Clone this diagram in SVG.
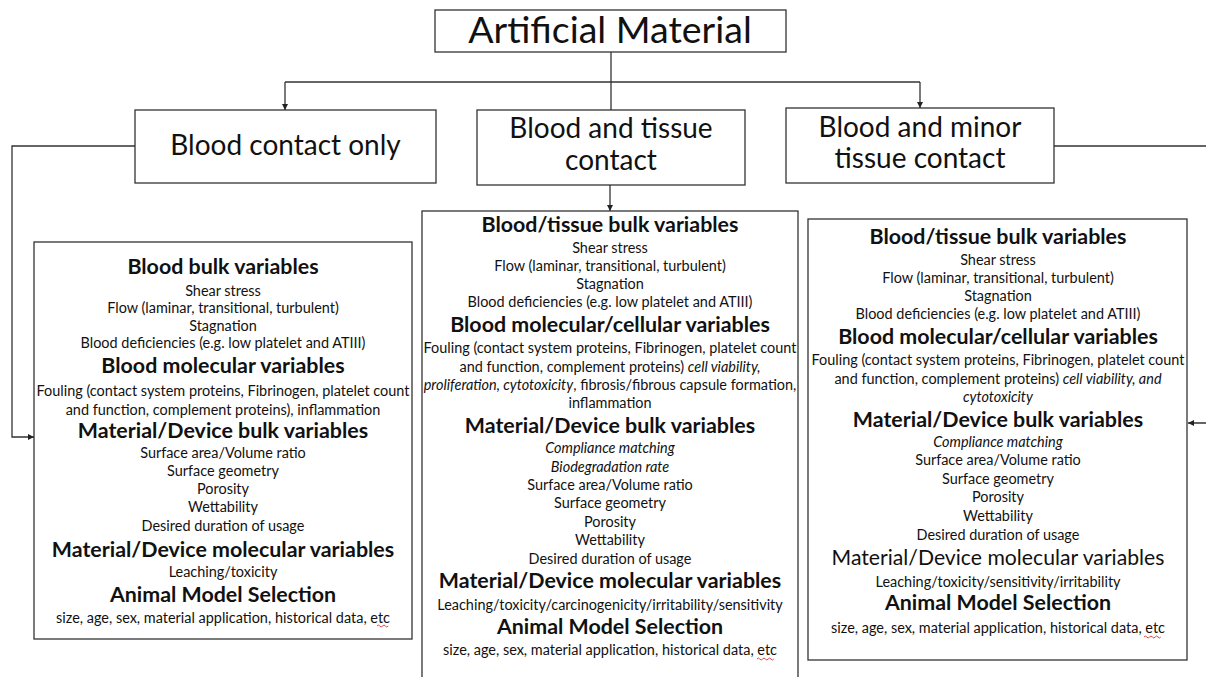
<svg xmlns="http://www.w3.org/2000/svg" width="1206" height="677" viewBox="0 0 1206 677">
  <style>
    .box { fill: #ffffff; stroke: #333333; stroke-width: 1.3; }
    .wire { fill: none; stroke: #333333; stroke-width: 1.3; }
    text { font-family: Lato, "Liberation Sans", sans-serif; fill: #111111; text-anchor: middle; }
    .title { font-size: 37.5px; }
    .cat { font-size: 28px; }
    .hd { font-size: 21.4px; font-weight: bold; }
    .hdr { font-size: 21.2px; }
    .it { font-size: 14.45px; }
    .em { font-style: italic; }
    .squig { fill: none; stroke: #e03030; stroke-width: 0.9; }
  </style>
  <defs>
    <marker id="arrow" viewBox="0 0 8 8" refX="8" refY="4" markerWidth="6" markerHeight="6" orient="auto" markerUnits="userSpaceOnUse">
      <path d="M0,0 L8,4 L0,8 Z" fill="#222222"/>
    </marker>
  </defs>

  <!-- connectors -->
  <g id="connectors">
    <path class="wire" d="M611,52 V110"/>
    <path class="wire" d="M285,82 H920"/>
    <path class="wire" d="M285,82 V110" marker-end="url(#arrow)"/>
    <path class="wire" d="M920,82 V108" marker-end="url(#arrow)"/>
    <path class="wire" d="M610,185 V211" marker-end="url(#arrow)"/>
    <path class="wire" d="M135,146 H12 V437 H34" marker-end="url(#arrow)"/>
    <path class="wire" d="M1054,146 H1216 V423 H1188" marker-end="url(#arrow)"/>
  </g>

  <!-- top node -->
  <g id="artificial-material">
    <rect class="box" x="435" y="10" width="351" height="42"/>
    <text class="title" x="610" y="43">Artificial Material</text>
  </g>

  <!-- category nodes -->
  <g id="blood-contact-only">
    <rect class="box" x="135" y="110" width="301" height="73"/>
    <text class="cat" x="285.5" y="155">Blood contact only</text>
  </g>
  <g id="blood-tissue-contact">
    <rect class="box" x="477" y="110" width="268" height="75"/>
    <text class="cat"><tspan x="611" y="138">Blood and tissue</tspan><tspan x="611" y="170">contact</tspan></text>
  </g>
  <g id="blood-minor-tissue-contact">
    <rect class="box" x="786" y="108" width="268" height="75"/>
    <text class="cat"><tspan x="920" y="137">Blood and minor</tspan><tspan x="920" y="168">tissue contact</tspan></text>
  </g>

  <!-- variables for blood contact only -->
  <g id="panel-blood-only">
    <rect class="box" x="34" y="242" width="378" height="397"/>
    <text class="hd" x="223" y="274">Blood bulk variables</text>
    <text class="it" x="223" y="296">Shear stress</text>
    <text class="it" x="223" y="313">Flow (laminar, transitional, turbulent)</text>
    <text class="it" x="223" y="331">Stagnation</text>
    <text class="it" x="223" y="348">Blood deficiencies (e.g. low platelet and ATIII)</text>
    <text class="hd" x="223" y="373">Blood molecular variables</text>
    <text class="it" x="223" y="396">Fouling (contact system proteins, Fibrinogen, platelet count</text>
    <text class="it" x="223" y="415">and function, complement proteins), inflammation</text>
    <text class="hd" x="223" y="438">Material/Device bulk variables</text>
    <text class="it" x="223" y="458">Surface area/Volume ratio</text>
    <text class="it" x="223" y="476">Surface geometry</text>
    <text class="it" x="223" y="494">Porosity</text>
    <text class="it" x="223" y="512">Wettability</text>
    <text class="it" x="223" y="531">Desired duration of usage</text>
    <text class="hd" x="223" y="557">Material/Device molecular variables</text>
    <text class="it" x="223" y="577">Leaching/toxicity</text>
    <text class="hd" x="223" y="602">Animal Model Selection</text>
    <text class="it" x="223" y="623">size, age, sex, material application, historical data, etc</text>
    <path class="squig" d="M377,626 q1.4,-2 2.8,0 t2.8,0 t2.8,0 t2.8,0"/>
  </g>

  <!-- variables for blood and tissue contact -->
  <g id="panel-blood-tissue">
    <rect class="box" x="422" y="211" width="376" height="475"/>
    <text class="hd" x="610" y="232">Blood/tissue bulk variables</text>
    <text class="it" x="610" y="253">Shear stress</text>
    <text class="it" x="610" y="271">Flow (laminar, transitional, turbulent)</text>
    <text class="it" x="610" y="289">Stagnation</text>
    <text class="it" x="610" y="307">Blood deficiencies (e.g. low platelet and ATIII)</text>
    <text class="hd" x="610" y="332">Blood molecular/cellular variables</text>
    <text class="it" x="610" y="353">Fouling (contact system proteins, Fibrinogen, platelet count</text>
    <text class="it" x="610" y="372">and function, complement proteins) <tspan class="em">cell viability,</tspan></text>
    <text class="it" x="610" y="390"><tspan class="em">proliferation, cytotoxicity</tspan>, fibrosis/fibrous capsule formation,</text>
    <text class="it" x="610" y="408">inflammation</text>
    <text class="hd" x="610" y="433">Material/Device bulk variables</text>
    <text class="it em" x="610" y="453">Compliance matching</text>
    <text class="it em" x="610" y="472">Biodegradation rate</text>
    <text class="it" x="610" y="490">Surface area/Volume ratio</text>
    <text class="it" x="610" y="508">Surface geometry</text>
    <text class="it" x="610" y="527">Porosity</text>
    <text class="it" x="610" y="545">Wettability</text>
    <text class="it" x="610" y="564">Desired duration of usage</text>
    <text class="hd" x="610" y="588">Material/Device molecular variables</text>
    <text class="it" x="610" y="610">Leaching/toxicity/carcinogenicity/irritability/sensitivity</text>
    <text class="hd" x="610" y="634">Animal Model Selection</text>
    <text class="it" x="610" y="655">size, age, sex, material application, historical data, etc</text>
    <path class="squig" d="M757,659 q1.4,-2 2.8,0 t2.8,0 t2.8,0 t2.8,0 t2.8,0 t2.8,0"/>
  </g>

  <!-- variables for blood and minor tissue contact -->
  <g id="panel-blood-minor-tissue">
    <rect class="box" x="808" y="219" width="379" height="441"/>
    <text class="hd" x="998" y="244">Blood/tissue bulk variables</text>
    <text class="it" x="998" y="265">Shear stress</text>
    <text class="it" x="998" y="283">Flow (laminar, transitional, turbulent)</text>
    <text class="it" x="998" y="301">Stagnation</text>
    <text class="it" x="998" y="319">Blood deficiencies (e.g. low platelet and ATIII)</text>
    <text class="hd" x="998" y="344">Blood molecular/cellular variables</text>
    <text class="it" x="998" y="365">Fouling (contact system proteins, Fibrinogen, platelet count</text>
    <text class="it" x="998" y="384">and function, complement proteins) <tspan class="em">cell viability, and</tspan></text>
    <text class="it em" x="998" y="402">cytotoxicity</text>
    <text class="hd" x="998" y="427">Material/Device bulk variables</text>
    <text class="it em" x="998" y="447">Compliance matching</text>
    <text class="it" x="998" y="465">Surface area/Volume ratio</text>
    <text class="it" x="998" y="484">Surface geometry</text>
    <text class="it" x="998" y="502">Porosity</text>
    <text class="it" x="998" y="521">Wettability</text>
    <text class="it" x="998" y="540">Desired duration of usage</text>
    <text class="hdr" x="998" y="565">Material/Device molecular variables</text>
    <text class="it" x="998" y="587">Leaching/toxicity/sensitivity/irritability</text>
    <text class="hd" x="998" y="610">Animal Model Selection</text>
    <text class="it" x="998" y="633">size, age, sex, material application, historical data, etc</text>
    <path class="squig" d="M1144,637 q1.4,-2 2.8,0 t2.8,0 t2.8,0 t2.8,0 t2.8,0 t2.8,0"/>
  </g>
</svg>
